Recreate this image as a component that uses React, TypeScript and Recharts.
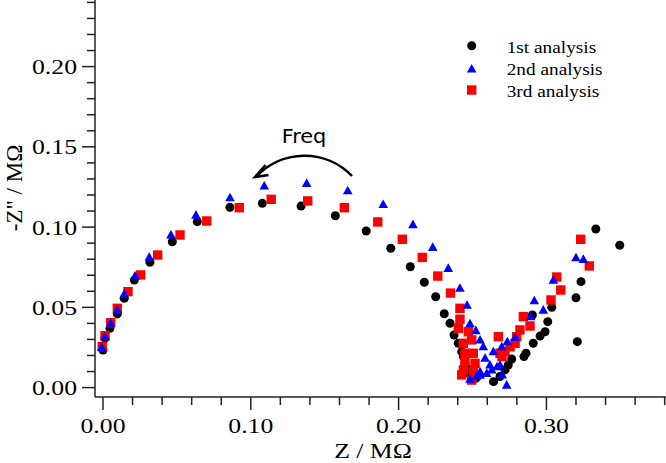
import { ScatterChart, Scatter, XAxis, YAxis, Customized } from 'recharts';

// Impedance points, [Z, -Z''] in MΩ
const firstAnalysis = [
  [0.0, 0.0234], [0.0014, 0.0309], [0.0047, 0.0369], [0.0097, 0.0459], [0.0144, 0.0556],
  [0.0212, 0.067], [0.0318, 0.0781], [0.0469, 0.0909], [0.0638, 0.1034], [0.0859, 0.1123],
  [0.1078, 0.1148], [0.134, 0.1131], [0.1572, 0.1071], [0.1781, 0.0976], [0.1947, 0.0868],
  [0.2079, 0.0753], [0.2174, 0.0656], [0.2251, 0.0566], [0.2309, 0.046], [0.2348, 0.0401],
  [0.2375, 0.0328], [0.2404, 0.0276], [0.2427, 0.0224], [0.2438, 0.0193], [0.2449, 0.0151],
  [0.2461, 0.012], [0.247, 0.0091], [0.2524, 0.006], [0.2642, 0.0037], [0.2686, 0.0069],
  [0.272, 0.011], [0.2742, 0.0141], [0.2765, 0.0178], [0.2848, 0.0193], [0.2862, 0.0214],
  [0.2911, 0.0276], [0.2957, 0.0321], [0.2991, 0.0348], [0.3009, 0.0411], [0.2905, 0.0452],
  [0.3036, 0.05], [0.32, 0.056], [0.3234, 0.066], [0.3334, 0.0988], [0.3496, 0.0887],
  [0.3209, 0.0286],
];

const secondAnalysis = [
  [-0.0009, 0.0251], [0.0014, 0.0317], [0.0052, 0.0401], [0.0097, 0.0483], [0.0144, 0.0583],
  [0.0217, 0.0695], [0.0313, 0.0812], [0.046, 0.0951], [0.0629, 0.1075], [0.0859, 0.1183],
  [0.1091, 0.1256], [0.1378, 0.1273], [0.1656, 0.1227], [0.1896, 0.1141], [0.2097, 0.1016],
  [0.2231, 0.0874], [0.2336, 0.0743], [0.2415, 0.0619], [0.2463, 0.0513], [0.2483, 0.0398],
  [0.2522, 0.0355], [0.2551, 0.0297], [0.2573, 0.0255], [0.2641, 0.0224], [0.2585, 0.0183],
  [0.2618, 0.0141], [0.263, 0.011], [0.2551, 0.0099], [0.2528, 0.0072], [0.2483, 0.0052],
  [0.2596, 0.0089], [0.2551, 0.0078], [0.2666, 0.013], [0.2701, 0.0079], [0.2731, 0.0016],
  [0.2686, 0.0141], [0.2698, 0.0255], [0.2735, 0.0286], [0.2788, 0.0312], [0.2894, 0.0442],
  [0.2918, 0.0541], [0.2979, 0.0483], [0.3047, 0.067], [0.32, 0.0809], [0.325, 0.0799],
];

const thirdAnalysis = [
  [-0.0005, 0.0255], [0.0014, 0.0323], [0.0052, 0.0404], [0.0097, 0.0494], [0.0169, 0.0598],
  [0.0255, 0.0702], [0.037, 0.0826], [0.0521, 0.0951], [0.0702, 0.1038], [0.0922, 0.1121],
  [0.1138, 0.1173], [0.1385, 0.1163], [0.1633, 0.1121], [0.1859, 0.1032], [0.2025, 0.0924],
  [0.216, 0.0811], [0.2265, 0.0695], [0.2351, 0.0589], [0.2415, 0.0494], [0.2415, 0.0426],
  [0.2404, 0.0369], [0.2472, 0.0348], [0.2495, 0.0297], [0.2438, 0.0276], [0.2505, 0.0214],
  [0.2449, 0.0214], [0.2449, 0.0161], [0.2438, 0.011], [0.2427, 0.0079], [0.2495, 0.0047],
  [0.2505, 0.0099], [0.2517, 0.0151], [0.2675, 0.0317], [0.2686, 0.0214], [0.272, 0.0224],
  [0.27, 0.0193], [0.2754, 0.0255], [0.2788, 0.0276], [0.2799, 0.0317], [0.2821, 0.0359],
  [0.2889, 0.0384], [0.2844, 0.0442], [0.3031, 0.0546], [0.3097, 0.0608], [0.307, 0.0689],
  [0.3232, 0.0924], [0.329, 0.0758],
];

const seriesNames = ['1st analysis', '2nd analysis', '3rd analysis'];

const xTicks = [0, 0.02, 0.04, 0.06, 0.08, 0.1, 0.12, 0.14, 0.16, 0.18, 0.2,
  0.22, 0.24, 0.26, 0.28, 0.3, 0.32, 0.34, 0.36, 0.38];
const yTicks = [0, 0.01, 0.02, 0.03, 0.04, 0.05, 0.06, 0.07, 0.08, 0.09, 0.1, 0.11, 0.12,
  0.13, 0.14, 0.15, 0.16, 0.17, 0.18, 0.19, 0.2, 0.21, 0.22, 0.23, 0.24];

const toPoints = (rows: number[][]) => rows.map(([z, zim]) => ({ z, zim }));

const SERIF = '"Liberation Serif", "Times New Roman", serif';
const AXIS = '#222';

const isMajor = (v: number, step: number) => Math.abs(v / step - Math.round(v / step)) < 1e-6;

const XTick = (props: any) => {
  const { x, y, payload } = props;
  const major = isMajor(payload.value, 0.1);
  return (
    <g>
      <line x1={x} y1={y} x2={x} y2={y + (major ? 13 : 8)} stroke={AXIS} strokeWidth={1.5} />
      {major && (
        <text transform={`translate(${x},${y + 36}) scale(1.17,1)`} textAnchor="middle"
          fontFamily={SERIF} fontSize={22} fill="#000">
          {payload.value.toFixed(2)}
        </text>
      )}
    </g>
  );
};

const YTick = (props: any) => {
  const { x, y, payload } = props;
  const major = isMajor(payload.value, 0.05);
  return (
    <g>
      <line x1={x - (major ? 13 : 8)} y1={y} x2={x} y2={y} stroke={AXIS} strokeWidth={1.5} />
      {major && (
        <text transform={`translate(${x - 18},${y + 7.5}) scale(1.17,1)`} textAnchor="end"
          fontFamily={SERIF} fontSize={22} fill="#000">
          {payload.value.toFixed(2)}
        </text>
      )}
    </g>
  );
};

const Dot = (p: any) => <circle cx={p.cx} cy={p.cy} r={4.5} fill="#000" />;
const Tri = (p: any) => (
  <polygon points={`${p.cx},${p.cy - 5} ${p.cx - 4.8},${p.cy + 3.6} ${p.cx + 4.8},${p.cy + 3.6}`} fill="#0000ff" />
);
const Sq = (p: any) => <rect x={p.cx - 4.7} y={p.cy - 4.7} width={9.4} height={9.4} fill="#ff0000" />;

// legend, axis titles and the frequency arrow
const Annotations = () => (
  <g>
    <text transform="translate(22,188) rotate(-90)" textAnchor="middle"
      fontFamily={SERIF} fontSize={23} fill="#000">-Z" / MΩ</text>
    <text transform="translate(373,458) scale(1.17,1)" textAnchor="middle"
      fontFamily={SERIF} fontSize={22} fill="#000">Z / MΩ</text>

    <circle cx={471.7} cy={45.7} r={4.5} fill="#000" />
    <polygon points="471.7,64 466.9,72.6 476.5,72.6" fill="#0000ff" />
    <rect x={467} y={85.3} width={9.4} height={9.4} fill="#ff0000" />
    {seriesNames.map((name, i) => (
      <text key={name} transform={`translate(506.7,${52.7 + i * 22}) scale(1.17,1)`}
        fontFamily={SERIF} fontSize={16.5} fill="#000">{name}</text>
    ))}

    <text transform="translate(304,143) scale(1.1,1)" textAnchor="middle"
      fontFamily='"DejaVu Sans", sans-serif' fontSize={19} fill="#000">Freq</text>
    <path d="M 352 176 A 66 66 0 0 0 256 177" fill="none" stroke="#000" strokeWidth={2.5} />
    <polyline points="265.5,165 255,177 268.5,175" fill="none" stroke="#000" strokeWidth={2.5} strokeLinejoin="miter" />
  </g>
);

export default function App() {
  return (
    <div style={{ position: 'absolute', left: 0, top: 0, background: '#fff' }}>
      <ScatterChart width={666} height={463} margin={{ top: 0, right: 0, bottom: 0, left: 0 }}>
        <XAxis type="number" dataKey="z" domain={[-0.0054, 0.3809]} allowDataOverflow
          ticks={xTicks} interval={0} height={66} tickSize={0} tickMargin={0} tickLine={false}
          tick={<XTick />} axisLine={{ stroke: AXIS, strokeWidth: 1.5 }} />
        <YAxis type="number" dataKey="zim" domain={[-0.00586, 0.24149]} allowDataOverflow
          ticks={yTicks} interval={0} width={95} tickSize={0} tickMargin={0} tickLine={false}
          tick={<YTick />} axisLine={{ stroke: AXIS, strokeWidth: 1.5 }} />
        <Scatter name={seriesNames[0]} data={toPoints(firstAnalysis)} shape={Dot} isAnimationActive={false} />
        <Scatter name={seriesNames[2]} data={toPoints(thirdAnalysis)} shape={Sq} isAnimationActive={false} />
        <Scatter name={seriesNames[1]} data={toPoints(secondAnalysis)} shape={Tri} isAnimationActive={false} />
        <Customized component={Annotations} />
      </ScatterChart>
    </div>
  );
}
